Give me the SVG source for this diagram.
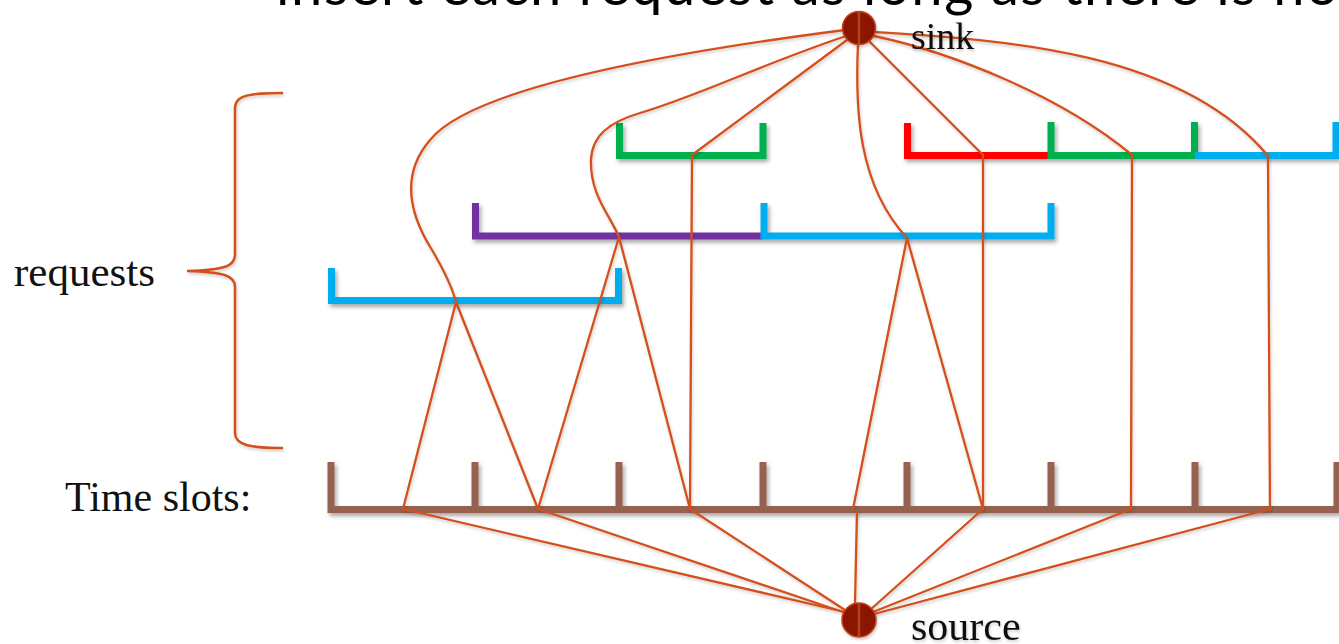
<svg xmlns="http://www.w3.org/2000/svg" width="1339" height="644" viewBox="0 0 1339 644">
<style>
.lbl{font-family:"Liberation Serif","Times New Roman",serif;fill:#111}
.title{font-family:Lato,"Open Sans","Liberation Sans",sans-serif;fill:#000}
.bar{fill:none;stroke-width:7;stroke-linejoin:miter;stroke-linecap:butt}
.edge{fill:none;stroke:#D4501C;stroke-width:2.3;stroke-linecap:round;stroke-linejoin:round}
.brace{fill:none;stroke:#D4501C;stroke-width:2.5}
.node{fill:#8A1600;stroke:#C2421A;stroke-width:1.5}
.stripe{stroke:#B5401E;stroke-width:2.5}
</style>
<defs>
<filter id="sh" x="-5%" y="-20%" width="110%" height="160%">
<feDropShadow dx="2" dy="3" stdDeviation="2" flood-color="#000" flood-opacity="0.35"/>
</filter>
<filter id="sh2" x="-5%" y="-5%" width="110%" height="110%">
<feDropShadow dx="1" dy="2" stdDeviation="1.5" flood-color="#000" flood-opacity="0.2"/>
</filter>
</defs>

<text class="title" x="276" y="5" font-size="56" textLength="1062" lengthAdjust="spacing">insert each request as long as there is no</text>

<g id="labels">
<text class="lbl" x="14" y="286" font-size="43">requests</text>
<text class="lbl" x="65" y="511" font-size="42">Time slots:</text>
</g>

<g id="brace" filter="url(#sh2)">
<path class="brace" d="M 283 93 C 250 93, 235 95, 235 108 L 235 255 C 235 266, 225 270, 187 271 C 225 272, 235 276, 235 287 L 235 433 C 235 445, 250 448, 283 448"/>
</g>

<g id="timeslots" filter="url(#sh)">
<path class="bar" stroke="#966250" d="M 331 462 V 509.5 H 1339"/>
<path class="bar" stroke="#966250" d="M 475 462 V 509 M 619 462 V 509 M 763 462 V 509 M 907 462 V 509 M 1051 462 V 509 M 1195 462 V 509 M 1337 462 V 509"/>
</g>

<g id="requests" filter="url(#sh)">
<path id="req-cyan3" class="bar" stroke="#00AEEF" d="M 331.5 268 V 300.5 H 618.5 V 268"/>
<path id="req-purple" class="bar" stroke="#7030A0" d="M 475.5 203 V 236 H 763"/>
<path id="req-cyan2" class="bar" stroke="#00AEEF" d="M 764 203 V 236 H 1051 V 203"/>
<path id="req-green1" class="bar" stroke="#00B050" d="M 619.5 123 V 155.5 H 763 V 123"/>
<path id="req-red" class="bar" stroke="#FF0000" d="M 907.5 123 V 155.5 H 1051"/>
<path id="req-green2" class="bar" stroke="#00B050" d="M 1051 122 V 155.5 H 1194.5 V 122"/>
<path id="req-cyan1" class="bar" stroke="#00AEEF" d="M 1195 155.5 H 1339 M 1336 122 V 155.5"/>
</g>

<g id="connectors" filter="url(#sh2)">
<path class="edge" d="M 845 30 C 650 55, 470 90, 430 140 C 400 175, 410 215, 432 250 C 445 272, 452 287, 456 302"/>
<path class="edge" d="M 846 36 C 760 65, 700 95, 640 113 C 610 122, 592 135, 591 160 C 590 195, 610 215, 619 237"/>
<path class="edge" d="M 851 37 L 692 155"/>
<path class="edge" d="M 858 44 C 855 110, 858 185, 907 238"/>
<path class="edge" d="M 868 40 L 983 155"/>
<path class="edge" d="M 874 36 C 950 52, 1060 95, 1132 155"/>
<path class="edge" d="M 875 32 C 1000 40, 1180 50, 1268 156"/>

<path class="edge" d="M 456 302 L 403 509 M 456 302 L 538 509"/>
<path class="edge" d="M 619 237 L 538 509 M 619 237 L 690 509"/>
<path class="edge" d="M 692 155 L 690 509"/>
<path class="edge" d="M 907 238 L 853 509 M 907 238 L 983 509"/>
<path class="edge" d="M 983 155 L 983 509"/>
<path class="edge" d="M 1132 155 L 1131 509"/>
<path class="edge" d="M 1268 156 L 1270 509"/>

<path class="edge" d="M 403 509 L 845 612"/>
<path class="edge" d="M 538 509 L 846 613"/>
<path class="edge" d="M 690 509 L 848 612"/>
<path class="edge" d="M 857 512 L 855 603"/>
<path class="edge" d="M 983 509 L 870 610"/>
<path class="edge" d="M 1131 509 L 873 612"/>
<path class="edge" d="M 1270 509 L 874 614"/>
</g>

<g id="sink" filter="url(#sh2)">
<circle class="node" cx="859" cy="28" r="16.5"/>
<line class="stripe" x1="859" y1="12" x2="859" y2="44"/>
<text class="lbl" x="911" y="49" font-size="38">sink</text>
</g>

<g id="source" filter="url(#sh2)">
<circle class="node" cx="859" cy="620" r="17"/>
<line class="stripe" x1="859" y1="603" x2="859" y2="637"/>
<text class="lbl" x="911" y="640" font-size="42">source</text>
</g>
</svg>
